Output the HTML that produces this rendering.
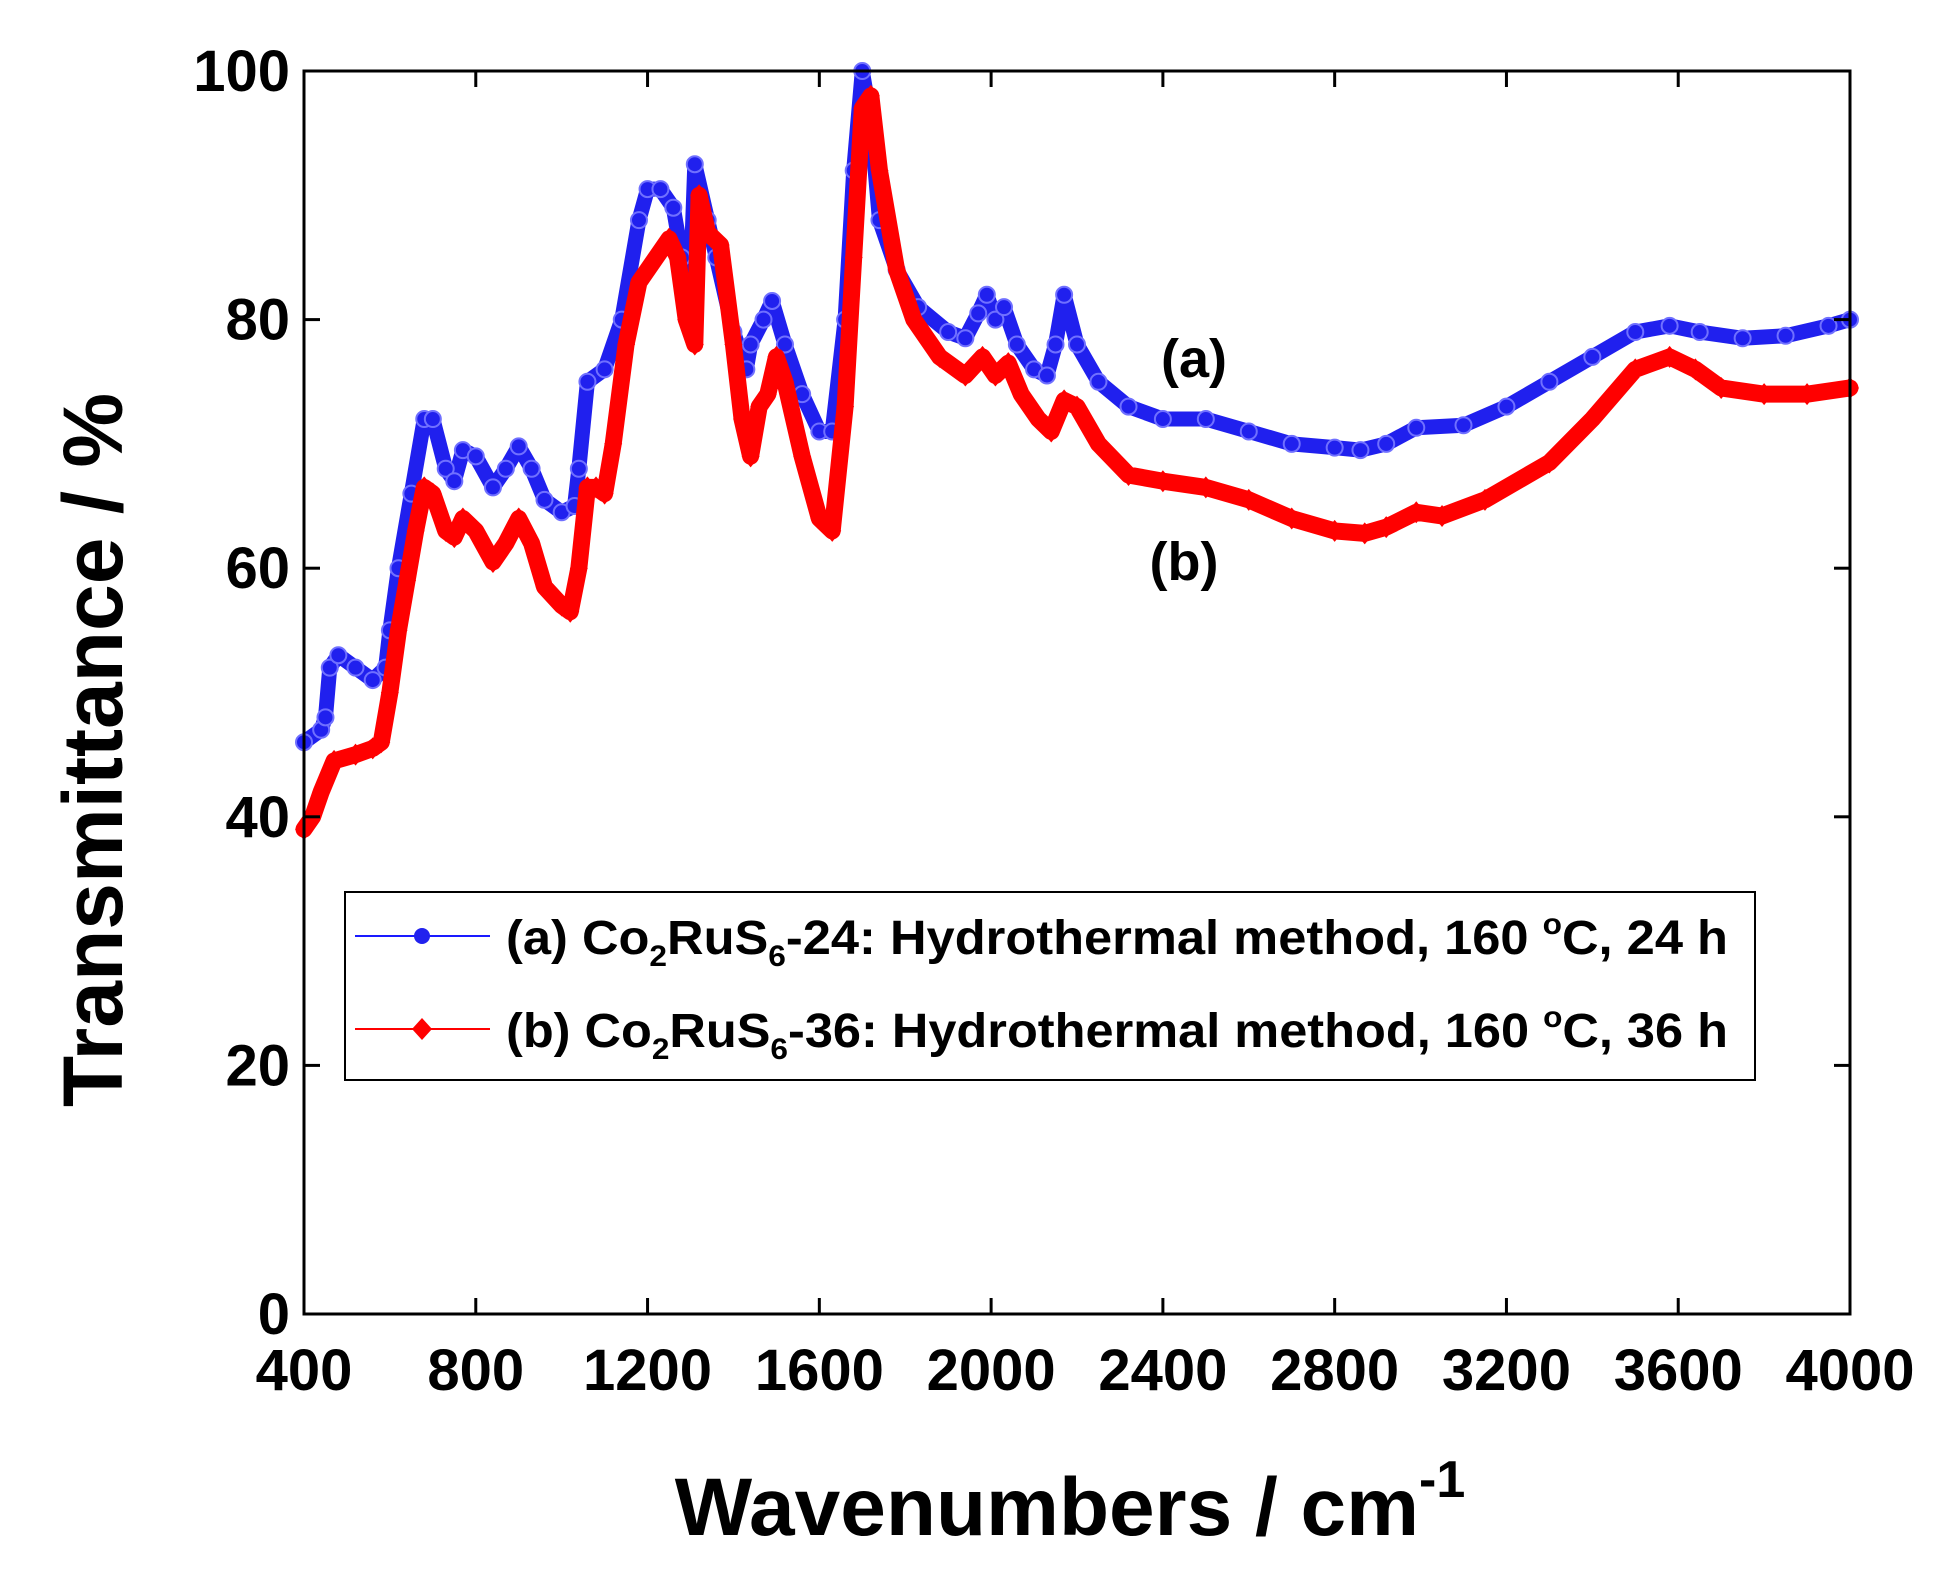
<!DOCTYPE html>
<html><head><meta charset="utf-8"><style>
body{margin:0;background:#fff}
svg text{font-family:"Liberation Sans",Arial,sans-serif;font-weight:bold;fill:#000}
</style></head><body>
<svg id="chart" width="1956" height="1574" viewBox="0 0 1956 1574">
<g id="series"></g>
<g id="axes"></g>
<text x="1194" y="377" font-size="54" text-anchor="middle">(a)</text>
<text x="1184" y="580" font-size="54" text-anchor="middle">(b)</text>
<g>
<rect x="345" y="892" width="1410" height="188" fill="#fff" stroke="#000" stroke-width="2"/>
<line x1="355" y1="936" x2="490" y2="936" stroke="#1a1aff" stroke-width="2"/>
<circle cx="422" cy="936" r="8" fill="#2222ee"/>
<text x="506" y="954" font-size="48" textLength="1222" lengthAdjust="spacingAndGlyphs">(a) Co<tspan font-size="30" dy="12">2</tspan><tspan dy="-12">RuS</tspan><tspan font-size="30" dy="12">6</tspan><tspan dy="-12">-24: Hydrothermal method, 160 </tspan><tspan font-size="30" dy="-20">o</tspan><tspan dy="20">C, 24 h</tspan></text>
<line x1="355" y1="1029" x2="490" y2="1029" stroke="#ff0000" stroke-width="2"/>
<polygon points="422,1018 432,1029 422,1040 412,1029" fill="#ff0000"/>
<text x="506" y="1047" font-size="48" textLength="1222" lengthAdjust="spacingAndGlyphs">(b) Co<tspan font-size="30" dy="12">2</tspan><tspan dy="-12">RuS</tspan><tspan font-size="30" dy="12">6</tspan><tspan dy="-12">-36: Hydrothermal method, 160 </tspan><tspan font-size="30" dy="-20">o</tspan><tspan dy="20">C, 36 h</tspan></text>
</g>
<text x="1070" y="1535" font-size="82" text-anchor="middle">Wavenumbers / cm<tspan font-size="52" dy="-38">-1</tspan></text>
<text transform="translate(122,750) rotate(-90)" font-size="84" text-anchor="middle">Transmittance / %</text>
</svg>
<script>
const xTicks=[400,800,1200,1600,2000,2400,2800,3200,3600,4000];
const yTicks=[0,20,40,60,80,100];
const wnA=[400,440,450,460,480,520,560,590,600,620,650,680,700,730,750,770,800,840,870,900,930,960,1000,1030,1040,1060,1100,1140,1180,1200,1230,1260,1280,1300,1310,1340,1360,1400,1430,1440,1470,1490,1520,1560,1600,1630,1660,1680,1700,1720,1740,1780,1830,1900,1940,1970,1990,2010,2030,2060,2100,2130,2150,2170,2200,2250,2320,2400,2500,2600,2700,2800,2860,2920,2990,3100,3200,3300,3400,3500,3580,3650,3750,3850,3950,4000];
const tA=[46,47,48,52,53,52,51,52,55,60,66,72,72,68,67,69.5,69,66.5,68,69.8,68,65.5,64.5,65,68,75,76,80,88,90.5,90.5,89,85,83,92.5,88,85,79,76,78,80,81.5,78,74,71,71,80,92,100,96,88,84,81,79,78.5,80.5,82,80,81,78,76,75.5,78,82,78,75,73,72,72,71,70,69.7,69.5,70,71.3,71.5,73,75,77,79,79.5,79,78.5,78.7,79.5,80];
const wnB=[400,420,440,470,520,560,580,600,620,640,660,680,700,730,750,770,800,840,870,900,930,960,1000,1020,1040,1060,1080,1100,1120,1150,1180,1220,1250,1270,1290,1310,1320,1340,1370,1400,1420,1440,1460,1480,1500,1520,1560,1600,1630,1660,1680,1700,1720,1740,1780,1820,1880,1940,1980,2010,2040,2070,2110,2140,2170,2200,2250,2320,2400,2500,2600,2700,2800,2870,2920,2990,3050,3150,3300,3400,3500,3580,3640,3700,3800,3900,4000];
const tB=[39,40,42,44.5,45,45.5,46,50,55,59,63,66.5,66,63,62.5,64,63,60.5,62,64,62,58.5,57,56.5,60,66.5,66.5,66,70,78,83,85,86.5,85,80,78,90,87,86,78,72,69,73,74,77,75,69,64,63,73,85,97,98,92,84,80,77,75.5,77,75.5,76.5,74,72,71,73.5,73,70,67.5,67,66.5,65.5,64,63,62.8,63.3,64.5,64.2,65.5,68.5,72,76,77,76,74.5,74,74,74.5];
const L=304,R=1850,T=71,B=1314;
const X=v=>L+(v-400)/3600*(R-L);
const Y=v=>B-v/100*(B-T);
const NS='http://www.w3.org/2000/svg';
const ser=document.getElementById('series'),ax=document.getElementById('axes');
function mk(tag,attrs,parent){const e=document.createElementNS(NS,tag);for(const k in attrs)e.setAttribute(k,attrs[k]);parent.appendChild(e);return e;}
function drawSeries(wn,t,color,name,diamond){
  const g=mk('g',{},ser);
  
  
  const pts=wn.map((w,i)=>X(w)+','+Y(t[i])).join(' ');
  const pl=mk('polyline',{points:pts,fill:'none',stroke:color,'stroke-width':diamond?17:15,'stroke-linejoin':'round','stroke-linecap':'round'},g);
  
  
  wn.forEach((w,i)=>{
    const x=X(w),y=Y(t[i]);
    let m;
    if(diamond){m=mk('polygon',{points:`${x},${y-11} ${x+9},${y} ${x},${y+11} ${x-9},${y}`,fill:color},g);}
    else{m=mk('circle',{cx:x,cy:y,r:8,fill:color,stroke:'#7070ff','stroke-width':2},g);}
    
    
  });
}
drawSeries(wnA,tA,'#2020ee','series-a',false);
drawSeries(wnB,tB,'#ff0000','series-b',true);
const frame=mk('rect',{x:L,y:T,width:R-L,height:B-T,fill:'none',stroke:'#000','stroke-width':3},ax);


xTicks.forEach(v=>{
  const x=X(v);
  mk('line',{x1:x,y1:B,x2:x,y2:B-16,stroke:'#000','stroke-width':3},ax);
  mk('line',{x1:x,y1:T,x2:x,y2:T+16,stroke:'#000','stroke-width':3},ax);
  const tx=mk('text',{x:x,y:B+76,'font-size':58,'text-anchor':'middle'},ax);
  tx.textContent=v;
  
  
});
yTicks.forEach(v=>{
  const y=Y(v);
  mk('line',{x1:L,y1:y,x2:L+16,y2:y,stroke:'#000','stroke-width':3},ax);
  mk('line',{x1:R,y1:y,x2:R-16,y2:y,stroke:'#000','stroke-width':3},ax);
  const tx=mk('text',{x:L-14,y:y+20,'font-size':58,'text-anchor':'end'},ax);
  tx.textContent=v;
  
  
});
</script>
</body></html>
